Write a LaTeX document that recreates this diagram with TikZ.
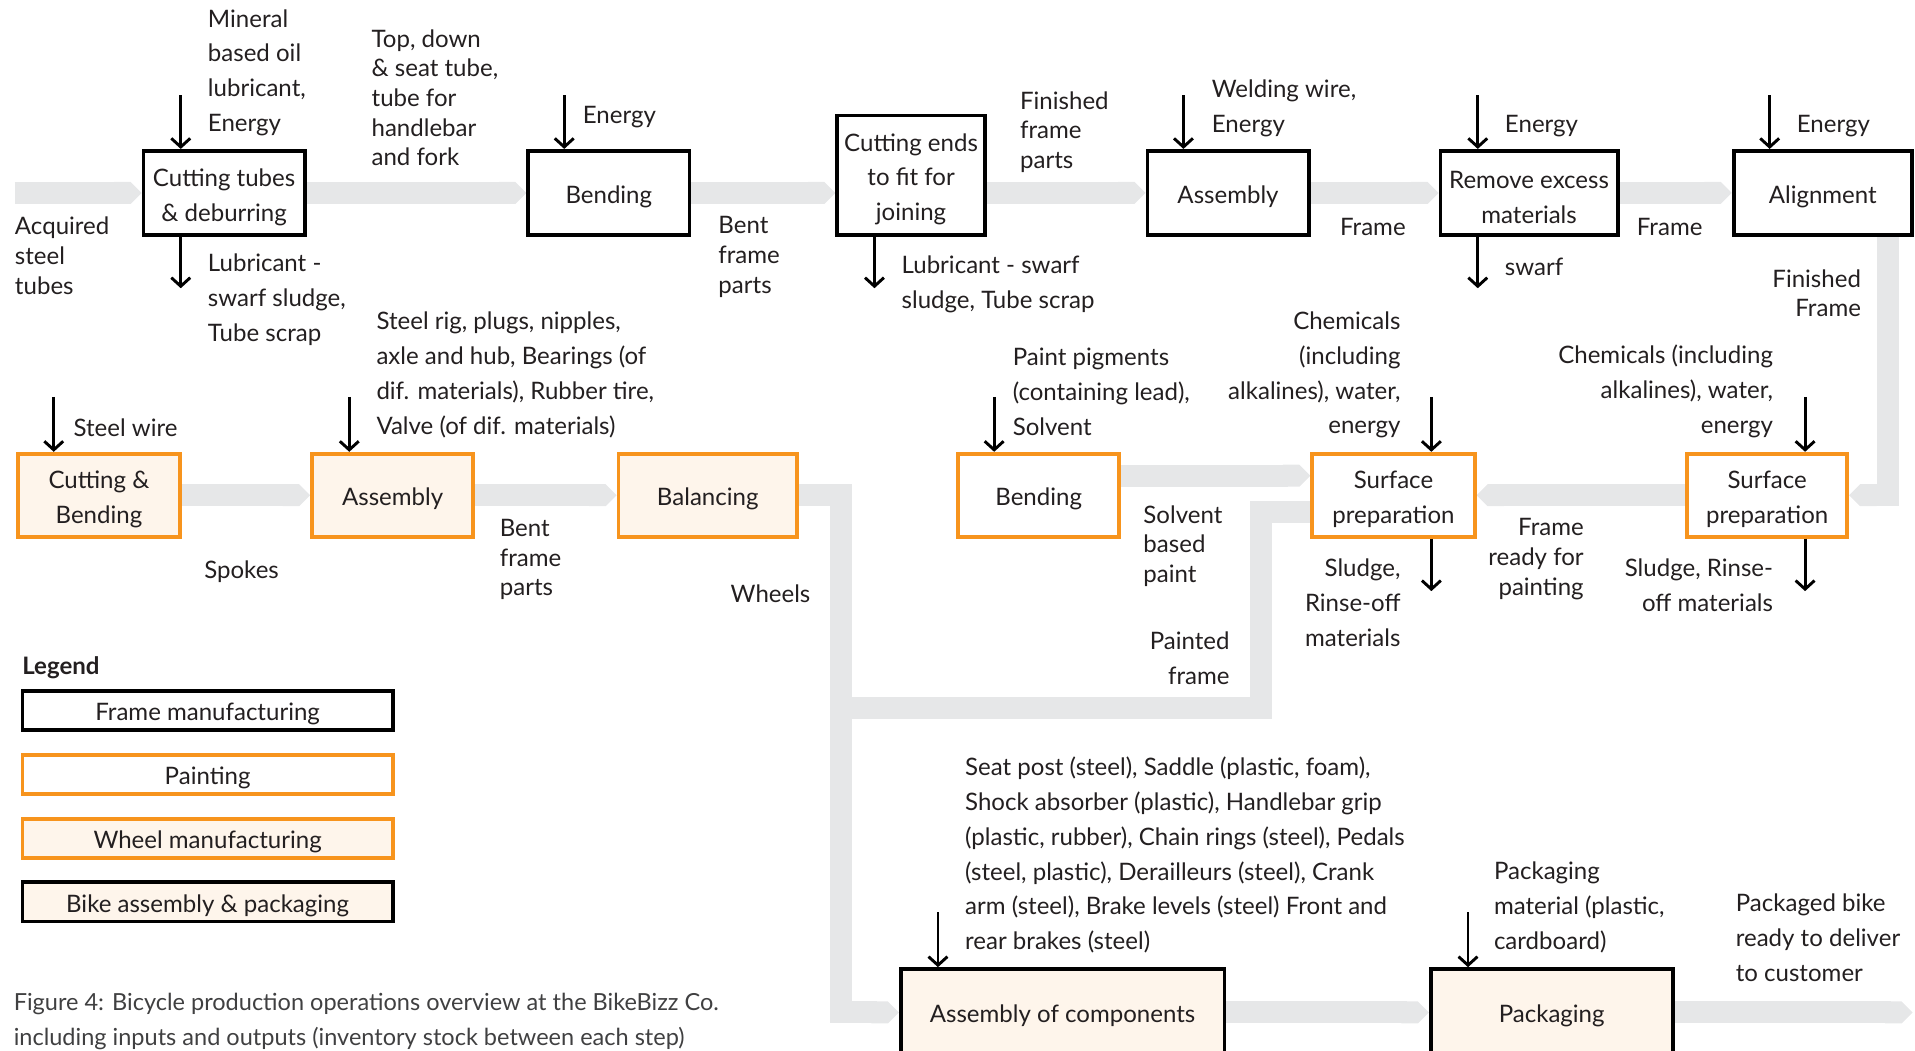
\documentclass[tikz,border=0pt]{standalone}
\usepackage{fontspec}
\setmainfont{Lato}
\usetikzlibrary{arrows.meta,backgrounds}

\definecolor{orng}{HTML}{F7941D}
\definecolor{cream}{HTML}{FEF5EB}
\definecolor{band}{HTML}{E6E7E8}
\definecolor{ink}{HTML}{231F20}
\definecolor{capgray}{HTML}{404041}

\newcommand\lblst{\rule{0pt}{13.2pt}}
\newcommand\boxst{\rule{0pt}{15pt}}

\begin{document}
\begin{tikzpicture}[x=0.025cm,y=-0.025cm,
        every node/.style={font=\fontsize{14pt}{20.3pt}\selectfont,text=ink,inner sep=0pt,
            execute at begin node={\rule{0pt}{13.2pt}}},
        box/.style={draw,line width=2.2pt,align=center,minimum height=1.725cm,
            execute at begin node={\rule{0pt}{14.4pt}}},
        framebox/.style={box,draw=black,fill=white},
        paintbox/.style={box,draw=orng,fill=white},
        wheelbox/.style={box,draw=orng,fill=cream},
        bikebox/.style={box,draw=black,fill=cream},
        lbl/.style={align=left},
        tight/.style={font=\fontsize{14pt}{17.3pt}\selectfont},
        flow/.style={draw=band,line width=0.45cm,line join=miter,-{Triangle Cap[]}},
        io/.style={line width=1.7pt,-{Straight Barb[length=5pt,width=11pt]}}]
        \useasboundingbox (0,0) rectangle (1568,860);

        \node[framebox,minimum width=3.3cm] (ct) at (183.5,158) {\boxst Cutting tubes\\\& deburring};
        \node[framebox,minimum width=3.3cm] (bd) at (498.5,158) {Bending};
        \node[framebox,minimum width=3.025cm,minimum height=2.45cm] (ce) at (746,143.5) {\boxst Cutting ends\\to fit for\\joining};
        \node[framebox,minimum width=3.3cm] (fa) at (1005.5,158) {Assembly};
        \node[framebox,minimum width=3.625cm] (rm) at (1252,158) {\boxst Remove excess\\materials};
        \node[framebox,minimum width=3.65cm] (al) at (1492.5,158) {Alignment};

        \node[wheelbox,minimum width=3.325cm,minimum height=1.7cm] (wc) at (81,405.5) {\boxst Cutting \&\\Bending};
        \node[wheelbox,minimum width=3.3cm,minimum height=1.7cm] (wa) at (321.5,405.5) {Assembly};
        \node[wheelbox,minimum width=3.65cm,minimum height=1.7cm] (wb) at (579.5,405.5) {Balancing};
        \node[paintbox,minimum width=3.3cm,minimum height=1.7cm] (pb) at (850.5,405.5) {Bending};
        \node[paintbox,minimum width=3.325cm,minimum height=1.7cm] (ps1) at (1141,405.5) {\boxst Surface\\preparation};
        \node[paintbox,minimum width=3.275cm,minimum height=1.7cm] (ps2) at (1447,405.5) {\boxst Surface\\preparation};

        \node[bikebox,minimum width=6.625cm,minimum height=1.775cm] (ac) at (870,829) {Assembly of components};
        \node[bikebox,minimum width=4.95cm,minimum height=1.775cm] (pk) at (1270.5,829) {Packaging};

        \coordinate (src) at (12,158);
        \coordinate (fin) at (1546,0);
        \coordinate (pfc) at (1032.5,579.5);
        \coordinate (wh) at (688.5,827);
        \coordinate (dst) at (1566,829);

        \begin{scope}[on background layer]
        \draw[flow] (src) -- (ct.west);
        \draw[flow] (ct.east) -- (bd.west);
        \draw[flow] (bd.east) -- (ce.west |- bd.east);
        \draw[flow] (ce.east |- fa.west) -- (fa.west);
        \draw[flow] (fa.east) -- (rm.west);
        \draw[flow] (rm.east) -- (al.west);
        \draw[flow] (al.south -| fin) |- (ps2.east);
        \draw[flow] (ps2.west) -- (ps1.east);
        \draw[flow] ([yshift=0.4cm]pb.east) -- ([yshift=0.4cm]ps1.west);
        \draw[flow,-] ([yshift=-0.35cm]ps1.west) -| (pfc) -- (pfc -| wh);
        \draw[flow] (wc.east) -- (wa.west);
        \draw[flow] (wa.east) -- (wb.west);
        \draw[flow] (wb.east) -| (wh |- ac.west) -- (ac.west);
        \draw[flow] (ac.east) -- (pk.west);
        \draw[flow] (pk.east) -- (dst);
        \end{scope}

        \coordinate (ctin) at (148,78);
        \coordinate (ctout) at (148,236);
        \coordinate (bdin) at (462,78);
        \coordinate (ceout) at (716,236);
        \coordinate (fain) at (969,78);
        \coordinate (rmin) at (1210,78);
        \coordinate (rmout) at (1210,236);
        \coordinate (alin) at (1449,78);
        \coordinate (wcin) at (44,325);
        \coordinate (wain) at (286,325);
        \coordinate (pbin) at (814,325);
        \coordinate (psain) at (1172,325);
        \coordinate (psaout) at (1172,484);
        \coordinate (psbin) at (1478,325);
        \coordinate (psbout) at (1478,484);
        \coordinate (acin) at (768,747);
        \coordinate (pkin) at (1202,747);

        \draw[io] (ctin) -- (ctin |- ct.north);
        \draw[io] (ctout |- ct.south) -- (ctout);
        \draw[io] (bdin) -- (bdin |- bd.north);
        \draw[io] (ceout |- ce.south) -- (ceout);
        \draw[io] (fain) -- (fain |- fa.north);
        \draw[io] (rmin) -- (rmin |- rm.north);
        \draw[io] (rmout |- rm.south) -- (rmout);
        \draw[io] (alin) -- (alin |- al.north);
        \draw[io] (wcin) -- (wcin |- wc.north);
        \draw[io] (wain) -- (wain |- wa.north);
        \draw[io] (pbin) -- (pbin |- pb.north);
        \draw[io] (psain) -- (psain |- ps1.north);
        \draw[io] (psaout |- ps1.south) -- (psaout);
        \draw[io] (psbin) -- (psbin |- ps2.north);
        \draw[io] (psbout |- ps2.south) -- (psbout);
        \draw[io] (acin) -- (acin |- ac.north);
        \draw[io] (pkin) -- (pkin |- pk.north);

        \node[lbl,anchor=west] (oil) at (170,57.5) {\lblst Mineral\\based oil\\lubricant,\\Energy};
        \node[lbl,anchor=west] (ctwaste) at (170,243.5) {\lblst Lubricant -\\swarf sludge,\\Tube scrap};
        \node[lbl,tight,anchor=west] (tubes) at (12,207.5) {\lblst Acquired\\steel\\tubes};
        \node[lbl,tight,anchor=west] (cuttubes) at (304,78) {\lblst Top, down\\\& seat tube,\\tube for\\handlebar\\and fork};
        \node[lbl,anchor=west] (bden) at (477,94) {Energy};
        \node[lbl,tight,anchor=west] (bent) at (588,208) {\lblst Bent\\frame\\parts};
        \node[lbl,anchor=west] (cewaste) at (738,230.5) {\lblst Lubricant - swarf\\sludge, Tube scrap};
        \node[lbl,tight,anchor=west] (parts) at (835,106) {\lblst Finished\\frame\\parts};
        \node[lbl,anchor=west] (weld) at (992,86.5) {\lblst Welding wire,\\Energy};
        \node[lbl,anchor=west] (framea) at (1097,184) {Frame};
        \node[lbl,anchor=west] (rmen) at (1232,101) {Energy};
        \node[lbl,anchor=west] (swarf) at (1232,216) {swarf};
        \node[lbl,anchor=west] (frameb) at (1340,184) {Frame};
        \node[lbl,anchor=west] (alen) at (1471,101) {Energy};
        \node[lbl,tight,align=right,anchor=east] (finished) at (1524,238) {\lblst Finished\\Frame};

        \node[lbl,align=right,anchor=east] (chemb) at (1452,319) {\lblst Chemicals (including\\alkalines), water,\\energy};
        \node[lbl,align=right,anchor=east] (sludgeb) at (1452,477.5) {\lblst Sludge, Rinse-\\off materials};
        \node[lbl,tight,align=right,anchor=east] (ready) at (1297,455.5) {\lblst Frame\\ready for\\painting};
        \node[lbl,align=right,anchor=east] (chema) at (1147,305) {\lblst Chemicals\\(including\\alkalines), water,\\energy};
        \node[lbl,align=right,anchor=east] (sludgea) at (1147,491.5) {\lblst Sludge,\\Rinse-off\\materials};
        \node[lbl,anchor=west] (pigment) at (829,319) {\lblst Paint pigments\\(containing lead),\\Solvent};
        \node[lbl,tight,anchor=west] (paint) at (936,445) {\lblst Solvent\\based\\paint};
        \node[lbl,align=right,anchor=east] (painted) at (1007,537) {\lblst Painted\\frame};

        \node[lbl,anchor=west] (wire) at (60,348) {Steel wire};
        \node[lbl,anchor=west] (rig) at (308,305) {\lblst Steel rig, plugs, nipples,\\axle and hub, Bearings (of\\dif. materials), Rubber tire,\\Valve (of dif. materials)};
        \node[lbl,anchor=west] (spokes) at (167,466) {Spokes};
        \node[lbl,tight,anchor=west] (bentw) at (409,456) {\lblst Bent\\frame\\parts};
        \node[lbl,anchor=west] (wheels) at (598,484) {Wheels};

        \node[lbl,anchor=west] (parts2) at (790,698.5) {\lblst Seat post (steel), Saddle (plastic, foam),\\Shock absorber (plastic), Handlebar grip\\(plastic, rubber), Chain rings (steel), Pedals\\(steel, plastic), Derailleurs (steel), Crank\\arm (steel), Brake levels (steel) Front and\\rear brakes (steel)};
        \node[lbl,anchor=west] (packmat) at (1223,741) {\lblst Packaging\\material (plastic,\\cardboard)};
        \node[lbl,anchor=west] (deliver) at (1421,765.5) {\lblst Packaged bike\\ready to deliver\\to customer};

        \node[anchor=west,font=\fontsize{14pt}{20.3pt}\selectfont\bfseries] (legend) at (18,545) {Legend};
        \node[framebox,minimum width=7.575cm,minimum height=0.8cm] (lf) at (170,581.5) {Frame manufacturing};
        \node[paintbox,minimum width=7.575cm,minimum height=0.8cm] (lp) at (170,634) {Painting};
        \node[wheelbox,minimum width=7.575cm,minimum height=0.8cm] (lw) at (170,686.5) {Wheel manufacturing};
        \node[bikebox,minimum width=7.575cm,minimum height=0.8cm] (lb) at (170,738.5) {Bike assembly \& packaging};

        \node[lbl,anchor=west,text=capgray,font=\fontsize{13.7pt}{20.3pt}\selectfont] (caption) at (11,834) {\lblst Figure 4: Bicycle production operations overview at the BikeBizz Co.\\including inputs and outputs (inventory stock between each step)};
    \end{tikzpicture}
\end{document}
